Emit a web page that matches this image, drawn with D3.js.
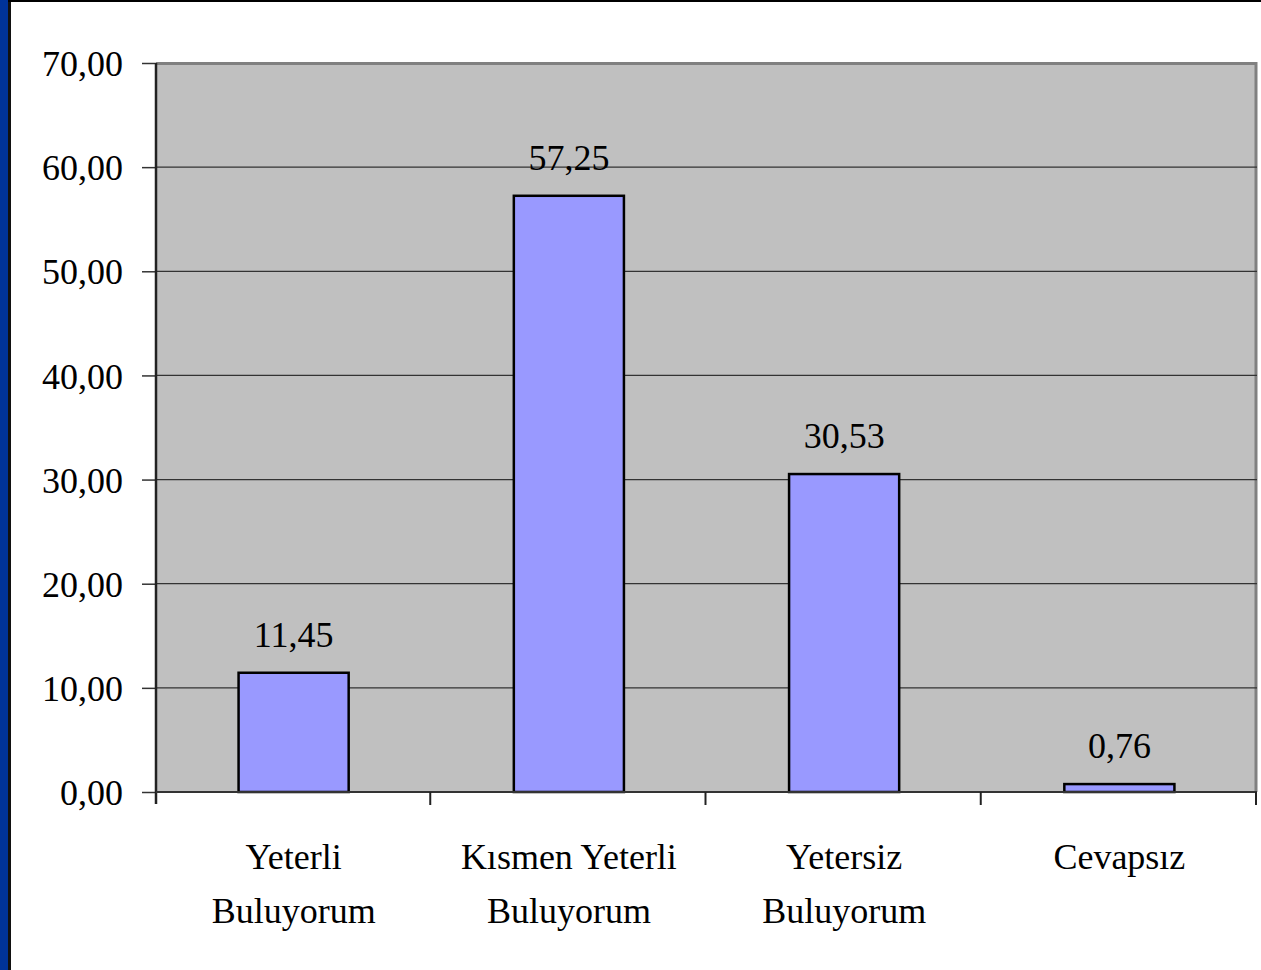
<!DOCTYPE html>
<html>
<head>
<meta charset="utf-8">
<script src="https://cdn.jsdelivr.net/npm/d3@7"></script>
<style>
  body { margin:0; background:#fff; }
  svg text { font-family: "Liberation Serif", "Times New Roman", serif; fill:#000; }
</style>
</head>
<body>
<div id="chart"></div>
<script>
const width = 1261
const height = 970

const margin = { top:63, bottom:178, left:156, right:4 }

// data
const categories = ["Yeterli Buluyorum", "Kısmen Yeterli Buluyorum", "Yetersiz Buluyorum", "Cevapsız"]
const labelLines = [["Yeterli","Buluyorum"],["Kısmen Yeterli","Buluyorum"],["Yetersiz","Buluyorum"],["Cevapsız"]]
const values = [11.45, 57.25, 30.53, 0.76]
const yTicks = [0,10,20,30,40,50,60,70]

const fmt = v => d3.format(".2f")(v).replace(".", ",")

const svg = d3.select("div#chart").append("svg").attr("width",width).attr("height",height)

// frame: blue strip on the left, black edge lines
svg.append("rect").attr("x",0).attr("y",0).attr("width",8).attr("height",height).attr("fill","#003399")
svg.append("rect").attr("x",8).attr("y",0).attr("width",3).attr("height",height).attr("fill","#111")
svg.append("rect").attr("x",8).attr("y",0).attr("width",width).attr("height",2).attr("fill","#000")

const innerW = width - margin.left - margin.right
const innerH = height - margin.top - margin.bottom

const g = svg.append("g").attr("transform",`translate(${margin.left},${margin.top})`)

const x = d3.scaleBand().domain(categories).range([0,innerW]).paddingInner(0.6).paddingOuter(0.3)
const xb = d3.scaleBand().domain(categories).range([0,innerW])
const y = d3.scaleLinear().domain([0,70]).range([innerH,0])

// plot area
g.append("rect").attr("width",innerW).attr("height",innerH).attr("fill","#c0c0c0")
g.append("path").attr("d",`M0,0.5H${innerW-1}V${innerH}`).attr("fill","none").attr("stroke","#808080").attr("stroke-width",3)

// gridlines + y axis
const yAxis = d3.axisLeft(y).tickValues(yTicks).tickSize(14).tickFormat(fmt).tickPadding(19)
const yAxisG = g.append("g").call(yAxis)
yAxisG.select(".domain").remove()
yAxisG.selectAll(".tick line").attr("stroke","#333").attr("stroke-width",1.5)
yAxisG.selectAll(".tick text").attr("font-size",36).attr("dy","0.35em")

g.append("g").selectAll("line").data(yTicks.filter(d => d > 0 && d < 70)).join("line")
  .attr("x1",0).attr("x2",innerW).attr("y1",d => y(d)).attr("y2",d => y(d))
  .attr("stroke","#333").attr("stroke-width",1.2)

// bars
g.append("g").selectAll("rect").data(values).join("rect")
  .attr("x",(d,i) => x(categories[i]))
  .attr("y",d => y(d))
  .attr("width",x.bandwidth())
  .attr("height",d => innerH - y(d))
  .attr("fill","#9999ff").attr("stroke","#000").attr("stroke-width",2.5)

// value labels
g.append("g").selectAll("text").data(values).join("text")
  .attr("x",(d,i) => x(categories[i]) + x.bandwidth()/2)
  .attr("y",d => y(d) - 26)
  .attr("text-anchor","middle").attr("font-size",36)
  .text(fmt)

// axes lines
g.append("line").attr("x1",0).attr("x2",0).attr("y1",0).attr("y2",innerH+12).attr("stroke","#222").attr("stroke-width",2.5)
g.append("line").attr("x1",0).attr("x2",innerW).attr("y1",innerH).attr("y2",innerH).attr("stroke","#333").attr("stroke-width",2)

// x ticks at category boundaries
const bounds = categories.map(c => xb(c)).concat([innerW]).slice(1)
g.append("g").selectAll("line").data(bounds).join("line")
  .attr("x1",d => d - 1).attr("x2",d => d - 1).attr("y1",innerH).attr("y2",innerH+13)
  .attr("stroke","#222").attr("stroke-width",2)

// category labels
const catG = g.append("g").selectAll("text").data(labelLines).join("text")
  .attr("text-anchor","middle").attr("font-size",36)
  .attr("transform",(d,i) => `translate(${xb(categories[i]) + xb.bandwidth()/2},${innerH + 77})`)
catG.selectAll("tspan").data(d => d).join("tspan")
  .attr("x",0).attr("dy",(d,i) => i === 0 ? 0 : 54)
  .text(d => d)
</script>
</body>
</html>
